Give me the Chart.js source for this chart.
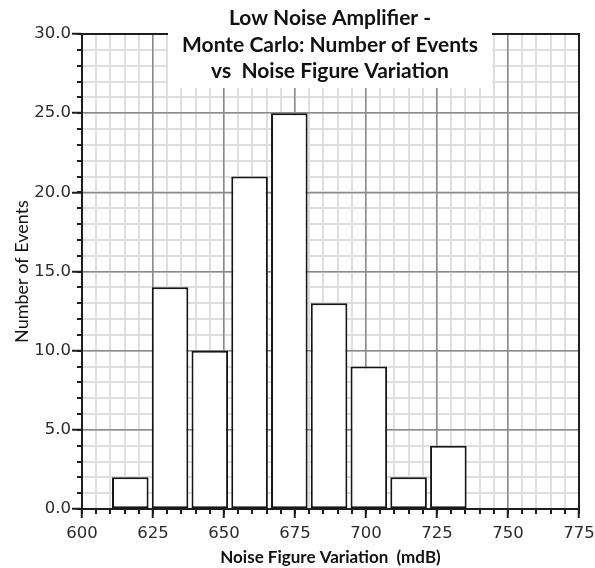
<!DOCTYPE html>
<html>
<head>
<meta charset="utf-8">
<script src="https://cdn.jsdelivr.net/npm/chart.js@4.4.1/dist/chart.umd.min.js"></script>
<style>
  html, body { margin: 0; padding: 0; background: #ffffff; }
  #wrap { position: relative; width: 595px; height: 568px; }
</style>
</head>
<body>
<div id="wrap"><canvas id="c" width="595" height="568"></canvas></div>
<script>
// ---- data ----
const binCenters = [617, 631, 645, 659, 673, 687, 701, 715, 729];
const eventCounts = [2, 14, 10, 21, 25, 13, 9, 2, 4];
const xTickValues = [600, 625, 650, 675, 700, 725, 750, 775];
const xTickLabels = ['600', '625', '650', '675', '700', '725', '750', '775'];
const yTickLabels = ['0.0', '5.0', '10.0', '15.0', '20.0', '25.0', '30.0'];
const titleLines = ['Low Noise Amplifier -', 'Monte Carlo: Number of Events', 'vs  Noise Figure Variation'];
const xAxisTitle = 'Noise Figure Variation  (mdB)';
const yAxisTitle = 'Number of Events';

const X_MIN = 600, X_MAX = 775, Y_MIN = 0, Y_MAX = 30;

const majorGrid = '#8a8a8a';
const minorGrid = '#dedede';
const axisDark = '#1e1e1e';
const tickFont = { family: "'DejaVu Sans', 'DejaVu Sans Condensed', sans-serif", size: 16.5 };

const titleBoxPlugin = {
  id: 'titleBox',
  afterDraw(chart) {
    const ctx = chart.ctx;
    ctx.save();
    ctx.fillStyle = '#ffffff';
    ctx.fillRect(168, 0, 324, 88);
    ctx.fillStyle = '#111111';
    ctx.font = "bold 21px 'Lato', sans-serif";
    ctx.textAlign = 'center';
    ctx.textBaseline = 'alphabetic';
    const baselines = [25, 52, 78];
    titleLines.forEach((t, i) => ctx.fillText(t, 330, baselines[i]));
    ctx.restore();
  }
};

const zeroW = (s) => { s.width = 0; s.paddingTop = 0; s.paddingBottom = 0; };
const zeroH = (s) => { s.height = 0; s.paddingLeft = 0; s.paddingRight = 0; };

new Chart(document.getElementById('c'), {
  type: 'bar',
  data: {
    datasets: [{
      data: binCenters.map((x, i) => ({ x: x, y: eventCounts[i] })),
      backgroundColor: '#ffffff',
      borderColor: '#151515',
      borderWidth: 2,
      borderSkipped: false,
      barPercentage: 0.92,
      categoryPercentage: 1.0,
      xAxisID: 'x',
      yAxisID: 'y'
    }]
  },
  options: {
    responsive: false,
    animation: false,
    devicePixelRatio: 1,
    layout: { padding: { left: 0, right: 16, top: 34, bottom: 0 } },
    plugins: { legend: { display: false }, tooltip: { enabled: false }, title: { display: false } },
    scales: {
      x: {
        type: 'linear', position: 'bottom', min: X_MIN, max: X_MAX, offset: false,
        afterBuildTicks: (s) => { s.ticks = xTickValues.map(v => ({ value: v })); },
        afterFit: (s) => { s.height = 59; s.paddingLeft = 0; s.paddingRight = 0; },
        ticks: {
          autoSkip: false, maxRotation: 0, padding: 6, color: '#2b2b2b',
          font: tickFont,
          callback: (v, i) => xTickLabels[i]
        },
        grid: { offset: false, color: majorGrid, lineWidth: 1.5, tickLength: 9, tickColor: axisDark, tickWidth: 2 },
        border: { display: true, color: axisDark, width: 2 },
        title: { display: true, text: xAxisTitle, color: '#111111', font: { family: "'Lato', sans-serif", size: 17, weight: 'bold' }, padding: { top: 0, bottom: 0 } }
      },
      y: {
        type: 'linear', position: 'left', min: Y_MIN, max: Y_MAX,
        afterBuildTicks: (s) => { s.ticks = yTickLabels.map((l, i) => ({ value: i * 5 })); },
        afterFit: (s) => { s.width = 82; s.paddingTop = 0; s.paddingBottom = 0; },
        ticks: {
          autoSkip: false, padding: 1, color: '#2b2b2b',
          font: tickFont,
          callback: (v, i) => yTickLabels[i]
        },
        grid: { color: majorGrid, lineWidth: 1.5, tickLength: 10, tickColor: axisDark, tickWidth: 2 },
        border: { display: true, color: axisDark, width: 2 },
        title: { display: true, text: yAxisTitle, color: '#111111', font: { family: "'Lato', sans-serif", size: 18 }, padding: { top: 11, bottom: 0 } }
      },
      xMinor: {
        type: 'linear', axis: 'x', position: { y: 0 }, min: X_MIN, max: X_MAX, offset: false,
        afterFit: zeroH,
        ticks: { display: false, stepSize: 5, autoSkip: false },
        grid: { z: -2, offset: false, color: minorGrid, lineWidth: 2, tickLength: 5, tickColor: axisDark, tickWidth: 2 },
        border: { display: false }
      },
      yMinor: {
        type: 'linear', axis: 'y', position: { x: 600 }, min: Y_MIN, max: Y_MAX,
        afterFit: zeroW,
        ticks: { display: false, stepSize: 1, autoSkip: false },
        grid: { z: -2, color: minorGrid, lineWidth: 2, tickLength: 5, tickColor: axisDark, tickWidth: 2 },
        border: { display: false }
      },
      xTop: {
        type: 'linear', axis: 'x', position: 'top', min: X_MIN, max: X_MAX, offset: false,
        afterFit: zeroH,
        ticks: { display: false },
        grid: { display: false, drawTicks: false, offset: false },
        border: { display: true, color: axisDark, width: 2 }
      },
      yRight: {
        type: 'linear', axis: 'y', position: 'right', min: Y_MIN, max: Y_MAX,
        afterFit: zeroW,
        ticks: { display: false },
        grid: { display: false, drawTicks: false },
        border: { display: true, color: axisDark, width: 2 }
      }
    }
  },
  plugins: [titleBoxPlugin]
});
</script>
</body>
</html>
